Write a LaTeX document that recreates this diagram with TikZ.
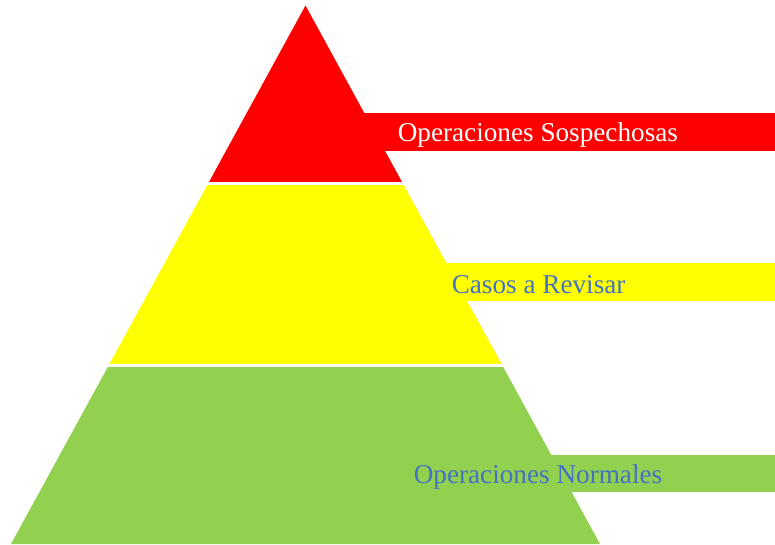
\documentclass[tikz,border=0pt]{standalone}
\usepackage{fontspec}
\setmainfont{Liberation Serif}
\definecolor{pred}{HTML}{FF0000}
\definecolor{pyellow}{HTML}{FFFF00}
\definecolor{pgreen}{HTML}{92D050}
\definecolor{ptext}{HTML}{4472C4}
\begin{document}
\begin{tikzpicture}[x=0.75pt,y=-0.75pt,
  lbl/.style={anchor=west,inner sep=0pt,font=\fontsize{20.4}{24}\selectfont}]
\useasboundingbox (0,0) rectangle (775,544);
\fill[white] (0,0) rectangle (775,544);
% bars behind the pyramid
\fill[pred] (305,113) rectangle (775,150.5);
\fill[pyellow] (305,263) rectangle (775,301);
\fill[pgreen] (305,455) rectangle (775,491.5);
% pyramid layers
\coordinate (apex) at (305.5,5.5);
\coordinate (bl) at (11,544);
\coordinate (br) at (600,544);
\begin{scope}
  \clip (apex) -- (bl) -- (br) -- cycle;
  \fill[pred] (0,0) rectangle (775,182);
  \fill[pyellow] (0,185) rectangle (775,364);
  \fill[pgreen] (0,367) rectangle (775,545);
\end{scope}
% labels
\node[lbl,text=white] (sosp) at (397.5,134.5) {Operaciones Sospechosas};
\node[lbl,text=ptext] (rev) at (451.5,285) {Casos a Revisar};
\node[lbl,text=ptext] (norm) at (413.5,476.5) {Operaciones Normales};
\end{tikzpicture}
\end{document}
